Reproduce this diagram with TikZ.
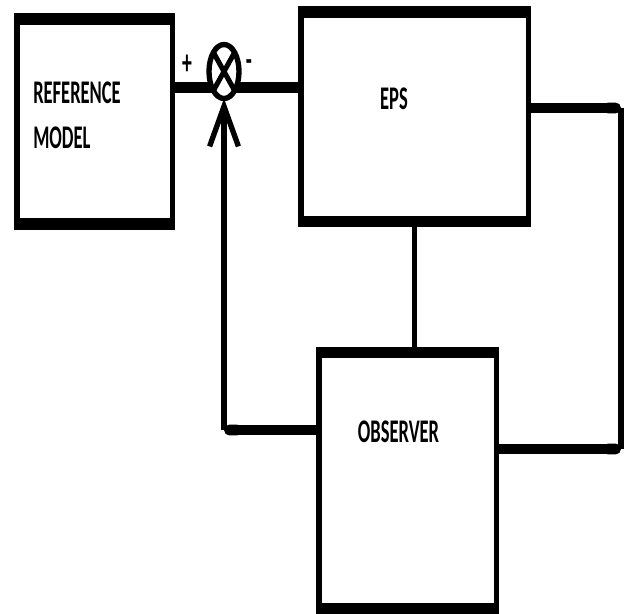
\documentclass[tikz,border=0pt]{standalone}
\usepackage{fontspec}
\setmainfont{Carlito}
\usetikzlibrary{arrows.meta,shapes.geometric}
\newcommand{\squeeze}[1]{\scalebox{0.56}[1]{#1}}

\begin{document}
\begin{tikzpicture}[x=0.025cm,y=-0.025cm,
  blk/.style={draw,line width=3.9pt,inner sep=0pt,outer sep=0pt},
  edge/.style={line width=8.4pt},
  thinln/.style={line width=3.8pt},
  thickln/.style={line width=7.8pt},
  lbl/.style={font=\fontsize{23.5}{28}\selectfont\bfseries,inner sep=0pt},
  sgn/.style={font=\fontsize{25}{28}\selectfont\bfseries,inner sep=0pt}]
  \useasboundingbox (0,0) rectangle (629,613);

  % --- blocks ---
  \node[blk,minimum width=3.89cm,minimum height=5.125cm] (ref) at (94.75,121.5) {};
  \node[blk,minimum width=5.69cm,minimum height=5.24cm] (eps) at (414.75,116.75) {};
  \node[blk,minimum width=4.44cm,minimum height=6.41cm] (obs) at (407.75,480.75) {};
  % heavier top and bottom edges
  \foreach \b in {ref,eps,obs} {
    \draw[edge] ([xshift=-1.95pt]\b.north west) -- ([xshift=1.95pt]\b.north east);
    \draw[edge] ([xshift=-1.95pt]\b.south west) -- ([xshift=1.95pt]\b.south east);
  }
  \node[lbl,anchor=base west] (reflbl) at (33,103) {\squeeze{REFERENCE}};
  \node[lbl,anchor=base west] (modlbl) at (33,148) {\squeeze{MODEL}};
  \node[lbl,anchor=base] (epslbl) at (394,109) {\squeeze{EPS}};
  \node[lbl,anchor=base] (obslbl) at (398.5,442) {\squeeze{OBSERVER}};

  % --- summing point ---
  \node[draw,ellipse,line width=3.8pt,minimum width=0.75cm,minimum height=1.35cm,
    inner sep=0pt,outer sep=0pt] (sum) at (224,71.5) {};
  \draw[line width=3.6pt] (sum.north west) -- (sum.south east)
                          (sum.north east) -- (sum.south west);
  \node[sgn] (plus) at (187,65) {\squeeze{+}};
  \node[sgn] (minus) at (249,66) {\squeeze{-}};

  % --- connections ---
  \coordinate (rt) at (621,108);
  \coordinate (rb) at (621,449);
  \coordinate (fb) at (224,430);
  \draw[thickln] (ref.east |- sum.232) -- (sum.232);
  \draw[thickln] (sum.308) -- (eps.west |- sum.308);
  \draw[thickln,{Round Cap}-] (rt) -- (eps.east |- rt);
  \draw[thinln] (rt) -- (rb);
  \draw[thickln,{Round Cap}-] (rb) -- (obs.east |- rb);
  \draw[thinln] (eps.south) -- (eps.south |- obs.north);
  \draw[thickln,{Round Cap}-] (fb) -- (obs.west |- fb);
  \draw[thinln,-{Straight Barb[length=1cm,width=0.72cm]}] (fb) -- (sum.south);
\end{tikzpicture}
\end{document}
